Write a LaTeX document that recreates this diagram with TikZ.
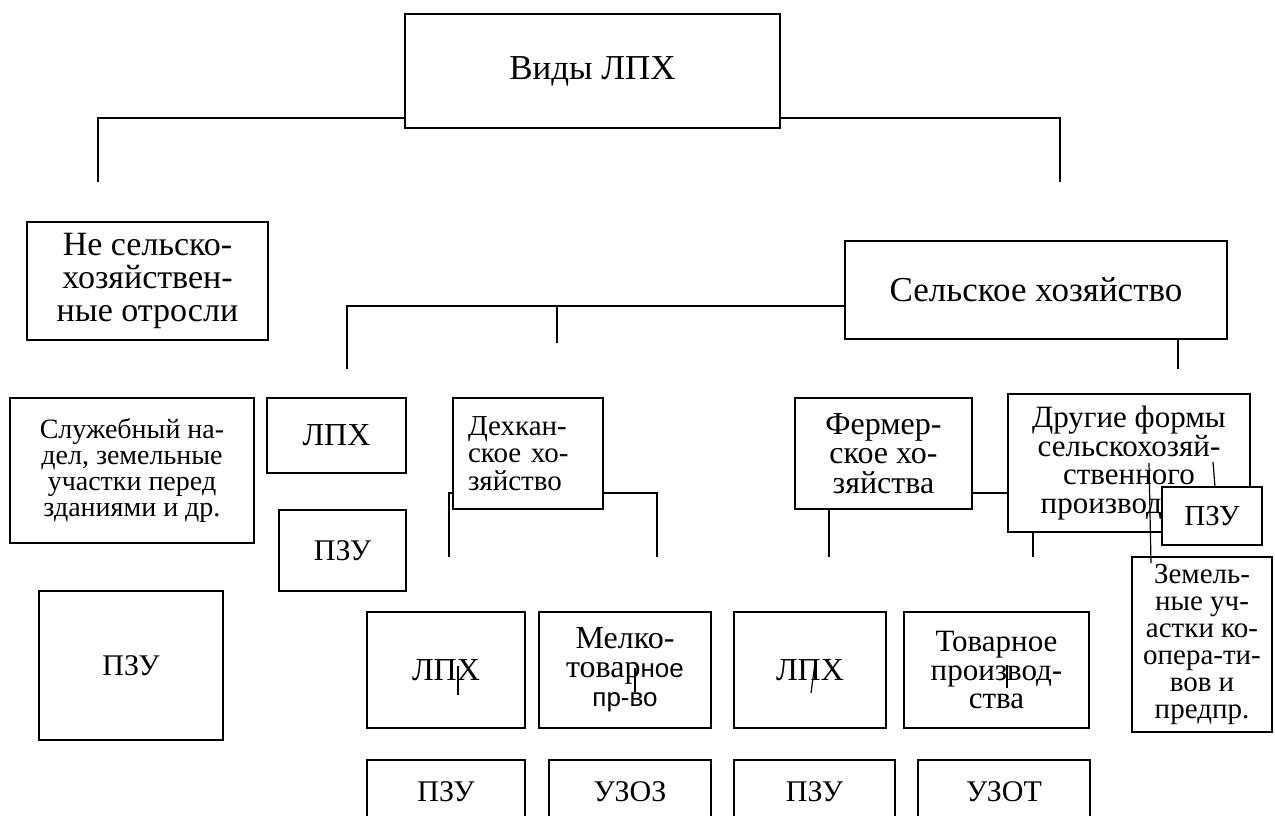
\documentclass[tikz,border=0pt]{standalone}
\usepackage{fontspec}
\setmainfont{Liberation Serif}
\newfontfamily\arialfont{Liberation Sans}
\newcommand{\boxfont}[2]{\fontsize{#1}{#2}\selectfont}

\begin{document}
\begin{tikzpicture}[x=1pt,y=-1pt]
            \tikzstyle{box} = [draw=black,rectangle,inner sep=0pt,line width=1.5pt,align=center];
            \tikzstyle{conn} = [line width=1.8pt];
            \useasboundingbox (0,0) rectangle (1275,816);
            \clip (0,0) rectangle (1275,816);
            % top level
            \node[box,minimum width=375,minimum height=114,font=\boxfont{35}{33}] (vid) at (592.5, 71) {Виды ЛПХ};
            \node[box,minimum width=241,minimum height=118,font=\boxfont{34}{33}] (nesh) at (147.5, 281) {Не сельско-\\хозяйствен-\\ные отросли};
            \node[box,minimum width=382,minimum height=98,font=\boxfont{35}{33}] (selh) at (1036, 290) {Сельское хозяйство};
            % second level
            \node[box,minimum width=244,minimum height=145,font=\boxfont{28}{26}] (sluzh) at (132, 470.5) {Служебный на-\\дел, земельные\\участки перед\\зданиями и др.};
            \node[box,minimum width=184,minimum height=149,font=\boxfont{30}{30}] (pzuA) at (131, 665.5) {ПЗУ};
            \node[box,minimum width=139,minimum height=75,font=\boxfont{32}{32}] (lph) at (336.5, 435.5) {ЛПХ};
            \node[box,minimum width=127,minimum height=81,font=\boxfont{30}{30}] (pzuB) at (342.5, 550.5) {ПЗУ};
            \node[box,minimum width=150,minimum height=111,text width=120,align=left,font=\boxfont{29}{27.5}] (dekh) at (528, 453.5) {Дехкан-\\ское хо-\\зяйство};
            \node[box,minimum width=177,minimum height=111,font=\boxfont{32}{29.5}] (ferm) at (883.5, 453.5) {Фермер-\\ское хо-\\зяйства};
            \node[box,minimum width=242,minimum height=138,font=\boxfont{31}{28.5}] (drug) at (1129, 463) {Другие формы\\сельскохозяй-\\ственного\\производ\phantom{ства}};
            \node[box,minimum width=100,minimum height=58,fill=white,font=\boxfont{29}{29}] (pzuC) at (1212, 516) {ПЗУ};
            \node[box,minimum width=140,minimum height=175,font=\boxfont{29}{27}] (zem) at (1202, 644.5) {Земель-\\ные уч-\\астки ко-\\опера-ти-\\вов и\\предпр.};
            % third level
            \node[box,minimum width=158,minimum height=116,font=\boxfont{32}{32}] (lphD) at (446, 670) {ЛПХ};
            \node[box,minimum width=172,minimum height=116,font=\boxfont{32}{29}] (melk) at (625, 670) {Мелко-\\товар{\arialfont\boxfont{26}{29}ное}\\{\arialfont\boxfont{26}{30}пр-во}};
            \node[box,minimum width=152,minimum height=116,font=\boxfont{32}{32}] (lphF) at (810, 670) {ЛПХ};
            \node[box,minimum width=185,minimum height=116,font=\boxfont{31}{28.5}] (tov) at (996.5, 670) {Товарное\\производ-\\ства};
            % bottom row
            \node[box,minimum width=158,minimum height=64,font=\boxfont{30}{30}] (pzuD) at (446, 792) {ПЗУ};
            \node[box,minimum width=162,minimum height=64,font=\boxfont{30}{30}] (uzoz) at (630, 792) {УЗОЗ};
            \node[box,minimum width=161,minimum height=64,font=\boxfont{30}{30}] (pzuF) at (814.5, 792) {ПЗУ};
            \node[box,minimum width=172,minimum height=64,font=\boxfont{30}{30}] (uzot) at (1004, 792) {УЗОТ};
            % free ends of the connectors
            \coordinate (neshTop) at (98, 182);
            \coordinate (selhTop) at (1060, 182);
            \coordinate (lphTop) at (347, 369);
            \coordinate (midTop) at (557, 343);
            \coordinate (drugTop) at (1178, 369);
            \coordinate (dekhL) at (449, 557);
            \coordinate (dekhR) at (657, 557);
            \coordinate (fermB) at (829, 557);
            \coordinate (drugB) at (1033, 557);
            \coordinate (vl) at ([yshift=11pt]vid.south west);
            \coordinate (vr) at ([yshift=11pt]vid.south east);
            \coordinate (sh) at ([yshift=34pt]selh.south west);
            \coordinate (dl) at ([yshift=17pt]dekh.south west);
            \coordinate (dr) at ([yshift=17pt]dekh.south east);
            \coordinate (fd) at ([yshift=17pt]ferm.south east);
            % connectors
            \draw[conn] (vl) -| (neshTop);
            \draw[conn] (vr) -| (selhTop);
            \draw[conn] (sh) -| (lphTop);
            \draw[conn] (sh -| midTop) -- (midTop);
            \draw[conn] (selh.south -| drugTop) -- (drugTop);
            \draw[conn] (dl) -| (dekhL);
            \draw[conn] (dr) -| (dekhR);
            \draw[conn] (fd) -- (fd -| drug.west);
            \draw[conn] (ferm.south -| fermB) -- (fermB);
            \draw[conn] (drug.south -| drugB) -- (drugB);
            % stray strokes
            \foreach \xa/\ya/\xb/\yb in {1149/463/1151/563, 1213/462/1215/487, 458/666/458/695, 635/668/635/692, 815/663/811/693, 1007/665/1007/688}
                \draw[line width=1.2pt] (\xa,\ya) -- (\xb,\yb);
        \end{tikzpicture}
\end{document}
